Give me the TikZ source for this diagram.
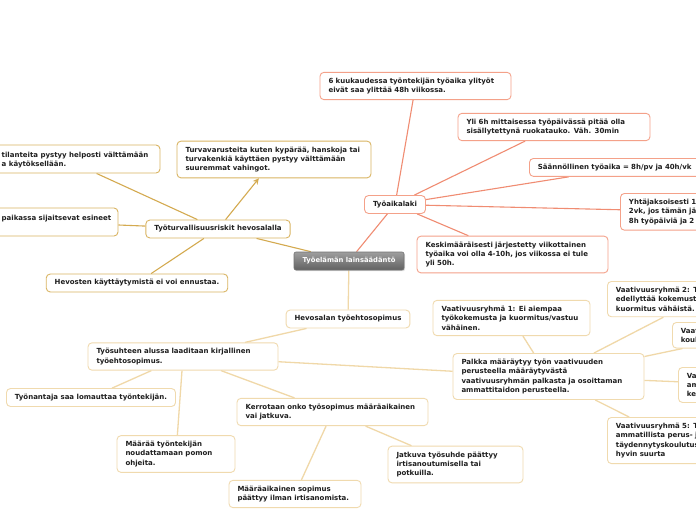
\documentclass[tikz,border=0pt]{standalone}
\usepackage{fontspec}
\setmainfont{DejaVu Sans}
\usetikzlibrary{fit,arrows.meta,backgrounds,shadows}
\definecolor{gold}{HTML}{D9B462}
\definecolor{goldln}{HTML}{D4AA50}
\definecolor{salm}{HTML}{F4A189}
\definecolor{salmln}{HTML}{F08C72}
\definecolor{tanb}{HTML}{F0DAAE}
\definecolor{tanln}{HTML}{F0D8A8}
\definecolor{txt}{HTML}{1E1E1E}
\tikzset{
 box/.style={draw, fill=white, rounded corners=4pt, line width=0.9pt, inner xsep=8.5pt, inner ysep=5.5pt, align=left, text=txt, font=\fontsize{7}{9.4}\selectfont\bfseries},
 gbox/.style={box, draw=gold},
 sbox/.style={box, draw=salm},
 tbox/.style={box, draw=tanb},
 plaintext/.style={inner xsep=1.5pt, inner ysep=5.5pt, align=left, text=txt, anchor=north west, font=\fontsize{7}{9.4}\selectfont\bfseries},
 fitbox/.style={draw, fill=white, rounded corners=4pt, line width=0.9pt, inner sep=0pt},
 gline/.style={draw=goldln, line width=1.1pt},
 sline/.style={draw=salmln, line width=1.1pt},
 tline/.style={draw=tanln, line width=1.3pt},
 central/.style={rounded corners=2pt, draw=black!55, line width=0.6pt, text=white, minimum width=110pt, minimum height=18pt, font=\fontsize{6.8}{8}\selectfont\bfseries, drop shadow={opacity=0.25, shadow xshift=1pt, shadow yshift=-1.2pt}}
}
\begin{document}
\begin{tikzpicture}[x=1pt,y=-1pt]
\useasboundingbox (0,0) rectangle (696,520);
\clip (0,0) rectangle (696,520);
% central
\node[central, top color=black!38, bottom color=black!62] (n0) at (349,261) {Työelämän lainsäädäntö};
% gold group
\node[gbox] (n2) at (218,229) {Työturvallisuusriskit hevosalalla};
\node[gbox, text width=177pt] (n3) at (274,159.5) {Turvavarusteita kuten kypärää, hanskoja tai\\turvakenkiä käyttäen pystyy välttämään\\suuremmat vahingot.};
\node[fitbox, draw=gold, fit={(-30,145)(160,173)}] (n4) {};
\node[plaintext] (t4) at (0,146) {tilanteita pystyy helposti välttämään\\a käytöksellään.};
\node[fitbox, draw=gold, fit={(-30,208)(118,236)}] (n5) {};
\node[plaintext] (t5) at (0,209) {paikassa sijaitsevat esineet};
\node[gbox] (n6) at (137,283) {Hevosten käyttäytymistä ei voi ennustaa.};
% salmon group
\node[sbox] (n7) at (395,204.5) {Työaikalaki};
\node[sbox, text width=174pt] (n8) at (415.5,86) {6 kuukaudessa työntekijän työaika ylityöt\\eivät saa ylittää 48h viikossa.};
\node[sbox, text width=175pt] (n9) at (554,127) {Yli 6h mittaisessa työpäivässä pitää olla\\sisällytettynä ruokatauko. Väh. 30min};
\node[sbox, anchor=north west, text width=180pt] (n10) at (529,158) {Säännöllinen työaika = 8h/pv ja 40h/vk};
\node[sbox, anchor=north west, text width=160pt] (n11) at (620,193) {Yhtäjaksoisesti 1\\2vk, jos tämän jä\\8h työpäiviä ja 2};
\node[sbox, text width=174pt] (n12) at (512.5,254.5) {Keskimääräisesti järjestetty viikottainen\\työaika voi olla 4-10h, jos viikossa ei tule\\yli 50h.};
% tan group
\node[tbox] (n13) at (348,319) {Hevosalan työehtosopimus};
\node[tbox, text width=173pt] (n14) at (183,356.5) {Työsuhteen alussa laaditaan kirjallinen\\työehtosopimus.};
\node[tbox] (n15) at (91,397.5) {Työnantaja saa lomauttaa työntekijän.};
\node[tbox, text width=101pt] (n16) at (176,454) {Määrää työntekijän\\noudattamaan pomon\\ohjeita.};
\node[tbox, text width=174pt] (n17) at (332.5,412) {Kerrotaan onko työsopimus määräaikainen\\vai jatkuva.};
\node[tbox, text width=115pt] (n18) at (295,494) {Määräaikainen sopimus\\päättyy ilman irtisanomista.};
\node[tbox, text width=118pt] (n19) at (455.5,464.5) {Jatkuva työsuhde päättyy\\irtisanoutumisella tai\\potkuilla.};
\node[tbox, text width=174pt] (n20) at (548.5,376.5) {Palkka määräytyy työn vaativuuden\\perusteella määräytyvästä\\vaativuusryhmän palkasta ja osoittaman\\ammattitaidon perusteella.};
\node[tbox, text width=140pt] (n21) at (511.5,318) {Vaativuusryhmä 1: Ei aiempaa\\työkokemusta ja kuormitus/vastuu\\vähäinen.};
\node[tbox, anchor=north west, text width=165pt] (n22) at (607,281) {Vaativuusryhmä 2: T\\edellyttää kokemust\\kuormitus vähäistä.};
\node[tbox, anchor=north west, text width=130pt] (n23) at (672,322) {Vaat\\koul};
\node[tbox, anchor=north west, text width=140pt] (n24) at (678,367) {Va\\am\\kes};
\node[tbox, anchor=north west, text width=120pt] (n25) at (607,417) {Vaativuusryhmä 5: T\\ammatillista perus- j\\täydennytyskoulutus\\hyvin suurta};
% connectors
\begin{scope}[on background layer]
\fill[white] (0,0) rectangle (696,520);
\draw[gline] (n0) -- (n2);
\draw[gline] (n2) -- (n4);
\draw[gline] (n2) -- (n5);
\draw[gline] (n2) -- (n6);
\draw[sline] (n0) -- (n7);
\draw[sline] (n7) -- (n8);
\draw[sline] (n7) -- (n9);
\draw[sline] (n7) -- (n10);
\draw[sline] (n7) -- (n11);
\draw[sline] (n7) -- (n12);
\draw[tline] (n0) -- (n13);
\draw[tline] (n13) -- (n14);
\draw[tline] (n14) -- (n15);
\draw[tline] (n14) -- (n16);
\draw[tline] (n14) -- (n17);
\draw[tline] (n14) -- (n20);
\draw[tline] (n17) -- (n18);
\draw[tline] (n17) -- (n19);
\draw[tline] (n20) -- (n21);
\draw[tline] (n20) -- (n22);
\draw[tline] (n20) -- (n23);
\draw[tline] (n20) -- (n24);
\draw[tline] (n20) -- (n25);
\end{scope}
\draw[gline, -{Stealth[length=6pt,width=6pt]}] (n2) -- (n3);
\end{tikzpicture}
\end{document}
